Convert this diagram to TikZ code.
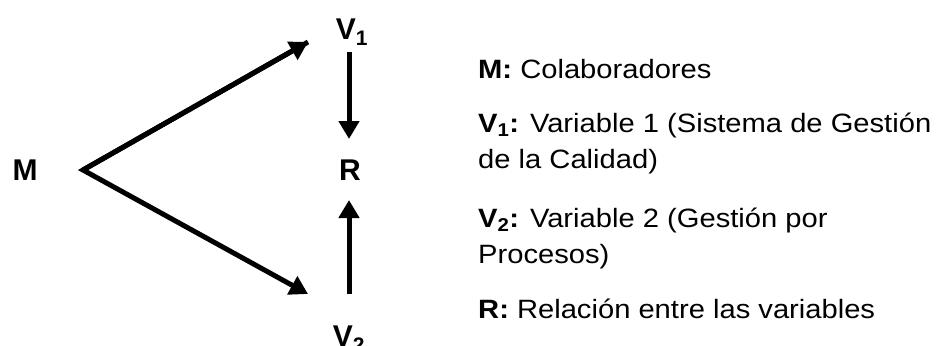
\documentclass[tikz,border=0pt]{standalone}
\usepackage{fontspec}
\setmainfont{Liberation Sans}
\newfontfamily\legendfont{Liberation Sans}[FakeStretch=1.1]
\usetikzlibrary{arrows.meta}
\tikzset{
  lbl/.style={font=\fontsize{30}{34}\selectfont\bfseries, inner sep=0pt, anchor=base},
  legend/.style={font=\legendfont\fontsize{26.5}{36}\selectfont, inner sep=0pt, anchor=base west, align=left},
  arr/.style={line width=5pt, -{Triangle[length=18pt,width=20pt]}}
}
\begin{document}
\begin{tikzpicture}[x=1pt,y=-1pt]
\useasboundingbox (0,0) rectangle (936,345);
\node[lbl] (M) at (25,180) {M};
\node[lbl] (V1) at (352,40) {V\textsubscript{1}};
\node[lbl] (R) at (350,180) {R};
\node[lbl] (V2) at (349,346) {V\textsubscript{2}};
\coordinate (apex) at (83,170);
\coordinate (t1) at (308,42);
\coordinate (t2) at (308,294);
\coordinate (s1) at (349,52);
\coordinate (e1) at (349,139);
\coordinate (s2) at (349,294);
\coordinate (e2) at (349,200);
\draw[arr, line join=miter] (t1) -- (apex) -- (t2);
\draw[arr] (apex) -- (t1);
\draw[arr] (s1) -- (e1);
\draw[arr] (s2) -- (e2);
\node[legend] (L1) at (478,78) {\textbf{M:} Colaboradores};
\node[legend] (L2) at (478,168) {\textbf{V\textsubscript{1}:} Variable 1 (Sistema de Gestión\\de la Calidad)};
\node[legend] (L3) at (478,263) {\textbf{V\textsubscript{2}:} Variable 2 (Gestión por\\Procesos)};
\node[legend] (L4) at (478,318) {\textbf{R:} Relación entre las variables};
\end{tikzpicture}
\end{document}
